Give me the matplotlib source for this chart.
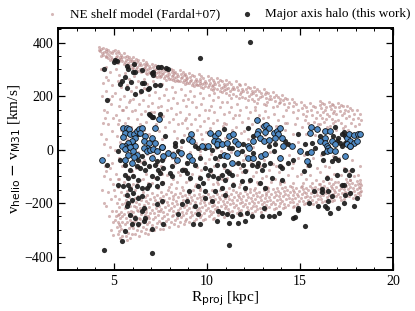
import matplotlib
matplotlib.use("Agg")
import matplotlib.pyplot as plt
from matplotlib.ticker import MultipleLocator

plt.rcParams['font.family'] = ['Liberation Serif', 'DejaVu Serif']
plt.rcParams['mathtext.fontset'] = 'dejavusans'

# ---------------- data ----------------
model_pts = [
 (4.2,385),(4.3,378),(4.25,370),(4.4,380),(4.45,365),(4.35,360),(4.2,372),(4.4,355),(4.3,350),
 (4.3,300),(4.4,250),(4.35,200),(4.45,150),(4.4,100),(4.3,60),(4.45,20),(4.4,-40),(4.45,-100),(4.35,-150),(4.45,-200),(4.5,-60),
 (4.6,378),(4.7,372),(4.55,368),(4.8,366),(4.65,360),(4.9,362),(4.75,355),(4.85,348),(4.6,350),(4.95,370),(4.7,342),(4.9,340),(4.55,345),(4.8,335),
 (4.6,310),(4.8,290),(4.7,260),(4.9,240),(4.6,220),(4.75,190),(4.85,170),(4.65,140),(4.95,120),(4.7,95),(4.9,70),(4.6,40),(4.8,10),(4.7,-20),(4.9,-50),(4.6,-80),(4.8,-110),(4.95,-130),(4.7,-160),(4.85,-185),(4.6,-210),(4.9,-230),(4.75,-250),(4.95,-270),(4.85,-300),(4.95,-320),
 (5.05,372),(5.2,368),(5.1,360),(5.3,362),(5.4,355),(5.15,350),(5.35,345),(5.25,340),(5.45,348),(5.05,338),(5.3,330),(5.2,325),(5.45,332),(5.1,345),(5.4,338),
 (5.1,300),(5.3,280),(5.2,255),(5.4,235),(5.05,210),(5.35,190),(5.25,165),(5.45,150),(5.1,130),(5.3,110),(5.2,95),(5.4,75),(5.15,50),(5.35,30),(5.05,0),(5.25,-30),(5.45,-60),(5.1,-90),(5.3,-110),(5.2,-140),(5.4,-160),
 (5.05,-175),(5.3,-185),(5.15,-200),(5.45,-205),(5.25,-215),(5.1,-228),(5.4,-235),(5.2,-245),(5.35,-255),(5.05,-262),(5.45,-270),(5.25,-278),(5.15,-290),(5.4,-295),(5.3,-305),(5.2,-315),(5.45,-322),(5.35,-330),(5.1,-250),(5.3,-240),(5.45,-250),(5.2,-270),(5.35,-285),
 (5.55,360),(5.7,352),(5.6,345),(5.8,348),(5.9,340),(5.65,335),(5.85,330),(5.75,325),(5.95,332),(5.55,320),(5.7,315),(5.9,318),(5.8,310),(5.6,328),(5.95,305),(5.75,340),
 (5.6,285),(5.8,265),(5.7,240),(5.9,220),(5.55,200),(5.85,185),(5.65,160),(5.95,145),(5.75,120),(5.6,100),(5.9,85),(5.7,40),(5.85,-20),(5.6,-60),(5.95,-80),(5.75,-100),(5.55,-120),(5.9,-140),(5.7,-155),
 (5.55,-170),(5.8,-178),(5.65,-190),(5.95,-195),(5.7,-205),(5.85,-212),(5.6,-220),(5.9,-228),(5.75,-235),(5.55,-242),(5.95,-248),(5.65,-255),(5.85,-262),(5.7,-270),(5.6,-278),(5.9,-285),(5.8,-292),(5.55,-300),(5.75,-310),(5.95,-315),(5.65,-322),(5.85,-330),(5.7,-338),(5.6,-200),(5.8,-245),(5.95,-270),
 (6.05,345),(6.2,340),(6.1,332),(6.3,335),(6.4,325),(6.15,322),(6.35,315),(6.25,310),(6.45,318),(6.05,305),(6.2,300),(6.4,302),(6.3,295),(6.1,315),(6.45,290),(6.25,328),
 (6.1,275),(6.3,255),(6.2,235),(6.4,210),(6.05,190),(6.35,170),(6.15,150),(6.45,135),(6.25,115),(6.4,95),(6.1,70),(6.3,-10),(6.45,-45),(6.2,-70),(6.05,-95),(6.4,-115),(6.25,-130),(6.15,-150),
 (6.05,-165),(6.3,-172),(6.15,-182),(6.45,-188),(6.2,-196),(6.35,-204),(6.1,-212),(6.4,-218),(6.25,-226),(6.05,-233),(6.45,-240),(6.15,-248),(6.35,-255),(6.2,-262),(6.1,-270),(6.4,-276),(6.3,-284),(6.05,-292),(6.25,-300),(6.45,-306),(6.15,-314),(6.35,-322),(6.2,-215),(6.4,-260),(6.3,-230),
 (6.55,335),(6.7,328),(6.6,320),(6.8,322),(6.9,312),(6.65,310),(6.85,302),(6.75,298),(6.95,305),(6.55,295),(6.7,288),(6.9,292),(6.8,282),(6.6,305),(6.95,285),(6.75,315),
 (6.6,265),(6.8,245),(6.7,225),(6.9,205),(6.55,185),(6.85,165),(6.65,145),(6.95,125),(6.75,105),(6.6,75),(6.9,60),(6.8,-15),(6.6,-40),(6.95,-65),(6.7,-90),(6.55,-110),(6.85,-125),(6.75,-145),
 (6.55,-160),(6.8,-168),(6.65,-178),(6.95,-183),(6.7,-192),(6.85,-200),(6.6,-207),(6.9,-214),(6.75,-222),(6.55,-229),(6.95,-236),(6.65,-243),(6.85,-250),(6.7,-258),(6.6,-266),(6.9,-272),(6.8,-280),(6.55,-288),(6.75,-296),(6.95,-302),(6.65,-310),(6.85,-315),(6.7,-235),(6.9,-255),
 (7.05,322),(7.2,315),(7.1,308),(7.3,310),(7.4,300),(7.15,298),(7.35,290),(7.25,285),(7.45,292),(7.05,283),(7.2,276),(7.4,280),(7.3,270),(7.1,293),(7.45,272),(7.25,303),
 (7.1,255),(7.3,240),(7.2,215),(7.4,195),(7.05,175),(7.35,160),(7.15,140),(7.45,115),(7.25,95),(7.4,70),(7.1,-20),(7.3,-55),(7.45,-80),(7.2,-105),(7.05,-125),(7.35,-145),
 (7.05,-162),(7.3,-168),(7.15,-176),(7.45,-182),(7.2,-190),(7.35,-197),(7.1,-204),(7.4,-210),(7.25,-218),(7.05,-225),(7.45,-231),(7.15,-238),(7.35,-245),(7.2,-252),(7.1,-260),(7.4,-266),(7.3,-274),(7.05,-282),(7.25,-290),(7.45,-295),(7.15,-302),(7.35,-228),
 (7.55,312),(7.7,305),(7.6,298),(7.8,300),(7.9,290),(7.65,288),(7.85,280),(7.75,276),(7.95,283),(7.55,274),(7.7,267),(7.9,270),(7.8,262),(7.6,284),(7.95,264),(7.75,294),
 (7.6,245),(7.8,228),(7.7,205),(7.9,185),(7.55,165),(7.85,150),(7.65,125),(7.95,105),(7.75,85),(7.6,40),(7.9,-5),(7.7,-35),(7.55,-60),(7.85,-95),(7.65,-120),(7.95,-140),
 (7.55,-160),(7.8,-166),(7.65,-174),(7.95,-180),(7.7,-187),(7.85,-194),(7.6,-200),(7.9,-207),(7.75,-214),(7.55,-221),(7.95,-227),(7.65,-234),(7.85,-240),(7.7,-247),(7.6,-254),(7.9,-260),(7.8,-268),(7.55,-275),(7.75,-283),(7.95,-290),(7.65,-296),
 (8.05,303),(8.2,296),(8.1,290),(8.3,292),(8.4,282),(8.15,280),(8.35,272),(8.25,268),(8.45,275),(8.05,266),(8.2,260),(8.4,262),(8.3,255),(8.1,276),(8.45,258),(8.25,286),
 (8.1,235),(8.3,215),(8.2,195),(8.4,175),(8.05,155),(8.35,135),(8.15,115),(8.45,95),(8.25,70),(8.4,45),(8.1,-30),(8.3,-50),(8.45,-85),(8.2,-110),(8.05,-130),(8.35,-145),
 (8.05,-160),(8.3,-166),(8.15,-173),(8.45,-178),(8.2,-185),(8.35,-192),(8.1,-198),(8.4,-205),(8.25,-212),(8.05,-218),(8.45,-224),(8.15,-231),(8.35,-237),(8.2,-244),(8.1,-250),(8.4,-257),(8.3,-264),(8.05,-270),(8.25,-278),(8.45,-285),
 (8.55,296),(8.7,290),(8.6,282),(8.8,284),(8.9,275),(8.65,272),(8.85,265),(8.75,260),(8.95,268),(8.55,258),(8.7,252),(8.9,255),(8.8,247),(8.6,268),(8.95,248),(8.75,278),
 (8.6,225),(8.8,205),(8.7,185),(8.9,165),(8.55,140),(8.85,120),(8.65,100),(8.95,80),(8.75,55),(8.6,-25),(8.9,-45),(8.7,-70),(8.55,-95),(8.85,-120),(8.65,-140),
 (8.55,-162),(8.8,-168),(8.65,-175),(8.95,-180),(8.7,-187),(8.85,-193),(8.6,-200),(8.9,-206),(8.75,-213),(8.55,-219),(8.95,-225),(8.65,-232),(8.85,-238),(8.7,-245),(8.6,-252),(8.9,-258),(8.8,-266),(8.55,-272),(8.75,-280),
 (9.05,288),(9.2,280),(9.1,272),(9.3,275),(9.4,265),(9.15,262),(9.35,255),(9.25,250),(9.45,258),(9.05,248),(9.2,242),(9.4,245),(9.3,238),(9.1,256),(9.45,240),
 (9.1,220),(9.3,200),(9.2,180),(9.4,160),(9.05,135),(9.35,115),(9.15,95),(9.45,75),(9.25,50),(9.4,25),(9.1,-10),(9.3,-40),(9.45,-65),(9.2,-90),(9.05,-115),(9.35,-135),(9.25,-150),
 (9.05,-165),(9.3,-170),(9.15,-177),(9.45,-182),(9.2,-188),(9.35,-195),(9.1,-201),(9.4,-207),(9.25,-214),(9.05,-220),(9.45,-226),(9.15,-232),(9.35,-238),(9.2,-245),(9.1,-252),(9.4,-258),(9.3,-266),(9.05,-272),
 (9.55,282),(9.7,275),(9.6,266),(9.8,268),(9.9,258),(9.65,255),(9.85,248),(9.75,244),(9.95,250),(9.55,240),(9.7,235),(9.9,238),(9.8,230),(9.6,248),
 (9.6,212),(9.8,192),(9.7,172),(9.9,150),(9.55,128),(9.85,108),(9.65,88),(9.95,65),(9.75,40),(9.6,-20),(9.9,-50),(9.7,-75),(9.55,-100),(9.85,-125),(9.65,-145),
 (9.55,-166),(9.8,-172),(9.65,-178),(9.95,-183),(9.7,-189),(9.85,-195),(9.6,-201),(9.9,-207),(9.75,-213),(9.55,-219),(9.95,-225),(9.65,-231),(9.85,-237),(9.7,-244),(9.6,-251),(9.9,-258),(9.8,-264),
 (10.05,275),(10.2,268),(10.1,260),(10.3,262),(10.4,252),(10.15,250),(10.35,242),(10.25,238),(10.45,245),(10.05,233),(10.2,228),(10.4,230),(10.3,222),(10.1,242),
 (10.1,205),(10.3,185),(10.2,165),(10.4,140),(10.05,120),(10.35,100),(10.15,80),(10.45,55),(10.25,30),(10.1,-35),(10.4,-60),(10.2,-85),(10.05,-110),(10.35,-130),(10.25,-150),
 (10.05,-167),(10.3,-172),(10.15,-178),(10.45,-183),(10.2,-189),(10.35,-195),(10.1,-200),(10.4,-206),(10.25,-212),(10.05,-218),(10.45,-223),(10.15,-229),(10.35,-235),(10.2,-241),(10.1,-248),(10.4,-254),(10.3,-260),
 (10.55,268),(10.7,260),(10.6,252),(10.8,255),(10.9,245),(10.65,242),(10.85,235),(10.75,230),(10.95,238),(10.55,226),(10.7,220),(10.9,222),(10.8,215),
 (10.6,198),(10.8,178),(10.7,158),(10.9,135),(10.55,112),(10.85,90),(10.65,70),(10.95,45),(10.75,-5),(10.6,-40),(10.9,-70),(10.7,-95),(10.55,-120),(10.85,-140),
 (10.55,-165),(10.8,-170),(10.65,-176),(10.95,-180),(10.7,-186),(10.85,-192),(10.6,-197),(10.9,-203),(10.75,-209),(10.55,-215),(10.95,-220),(10.65,-226),(10.85,-232),(10.7,-238),(10.6,-245),(10.9,-251),
 (11.05,262),(11.2,252),(11.1,244),(11.3,246),(11.4,236),(11.15,232),(11.35,225),(11.25,218),(11.45,228),(11.05,212),(11.2,205),(11.4,208),(11.3,195),
 (11.1,180),(11.3,160),(11.2,140),(11.4,118),(11.05,95),(11.35,75),(11.15,-25),(11.45,-55),(11.25,-80),(11.1,-105),(11.4,-125),(11.2,-145),
 (11.05,-160),(11.3,-166),(11.15,-172),(11.45,-177),(11.2,-183),(11.35,-188),(11.1,-194),(11.4,-199),(11.25,-205),(11.05,-211),(11.45,-216),(11.15,-222),(11.35,-228),(11.2,-234),(11.1,-241),(11.4,-247),
 (11.55,255),(11.7,245),(11.6,236),(11.8,240),(11.9,228),(11.65,224),(11.85,215),(11.75,208),(11.95,218),(11.55,200),(11.7,192),(11.9,196),
 (11.6,170),(11.8,150),(11.7,128),(11.9,105),(11.55,85),(11.85,62),(11.65,-15),(11.95,-40),(11.75,-70),(11.6,-95),(11.9,-118),(11.7,-140),
 (11.55,-158),(11.8,-163),(11.65,-169),(11.95,-174),(11.7,-179),(11.85,-185),(11.6,-190),(11.9,-196),(11.75,-201),(11.55,-207),(11.95,-212),(11.65,-218),(11.85,-224),(11.7,-230),(11.6,-237),(11.9,-243),
 (12.05,245),(12.2,236),(12.1,228),(12.3,230),(12.4,220),(12.15,215),(12.35,208),(12.25,200),(12.45,210),(12.05,192),(12.2,185),(12.4,188),
 (12.1,160),(12.3,140),(12.2,118),(12.4,95),(12.05,-20),(12.35,-50),(12.15,-75),(12.45,-100),(12.25,-120),(12.1,-140),
 (12.05,-155),(12.3,-160),(12.15,-166),(12.45,-171),(12.2,-176),(12.35,-181),(12.1,-187),(12.4,-192),(12.25,-198),(12.05,-203),(12.45,-209),(12.15,-214),(12.35,-220),(12.2,-226),(12.1,-232),(12.4,-238),
 (12.55,235),(12.7,226),(12.6,218),(12.8,220),(12.9,210),(12.65,205),(12.85,198),(12.75,190),(12.95,200),(12.55,182),(12.7,175),
 (12.6,150),(12.8,130),(12.7,110),(12.9,88),(12.55,-30),(12.85,-60),(12.65,-85),(12.95,-105),(12.75,-130),(12.6,-145),
 (12.55,-152),(12.8,-157),(12.65,-163),(12.95,-168),(12.7,-173),(12.85,-178),(12.6,-184),(12.9,-189),(12.75,-195),(12.55,-200),(12.95,-205),(12.65,-211),(12.85,-217),(12.7,-223),(12.6,-229),(12.9,-234),
 (13.05,225),(13.2,216),(13.1,208),(13.3,210),(13.4,200),(13.15,195),(13.35,188),(13.25,180),(13.45,190),(13.05,172),(13.2,166),
 (13.1,145),(13.3,122),(13.2,100),(13.4,-10),(13.05,-40),(13.35,-75),(13.15,-100),(13.45,-120),(13.25,-140),
 (13.05,-150),(13.3,-155),(13.15,-161),(13.45,-166),(13.2,-171),(13.35,-176),(13.1,-181),(13.4,-187),(13.25,-192),(13.05,-197),(13.45,-203),(13.15,-208),(13.35,-214),(13.2,-220),(13.1,-226),
 (13.55,215),(13.7,205),(13.6,196),(13.8,198),(13.9,188),(13.65,182),(13.85,174),(13.75,165),(13.95,178),(13.55,158),
 (13.6,135),(13.8,112),(13.7,90),(13.9,-25),(13.55,-55),(13.85,-85),(13.65,-110),(13.95,-130),(13.75,-142),
 (13.55,-148),(13.8,-153),(13.65,-158),(13.95,-163),(13.7,-168),(13.85,-173),(13.6,-178),(13.9,-184),(13.75,-189),(13.55,-194),(13.95,-200),(13.65,-205),(13.85,-211),(13.7,-217),(13.6,-223),
 (14.05,205),(14.2,195),(14.1,185),(14.3,188),(14.4,175),(14.15,170),(14.35,160),(14.25,150),
 (14.1,125),(14.3,100),(14.2,75),(14.4,-20),(14.05,-60),(14.35,-95),(14.15,-120),(14.45,-135),
 (14.05,-145),(14.3,-150),(14.15,-155),(14.45,-160),(14.2,-165),(14.35,-170),(14.1,-175),(14.4,-180),(14.25,-186),(14.05,-191),(14.45,-196),(14.15,-202),(14.35,-208),(14.2,-214),(14.1,-220),
 (14.55,190),(14.7,178),(14.6,165),(14.8,170),(14.9,150),(14.65,140),(14.85,120),(14.75,95),(14.6,60),(14.9,-30),(14.55,-70),(14.85,-100),(14.65,-125),
 (14.55,-140),(14.8,-145),(14.65,-150),(14.95,-155),(14.7,-160),(14.85,-165),(14.6,-170),(14.9,-175),(14.75,-181),(14.55,-186),(14.95,-191),(14.65,-197),(14.85,-203),(14.7,-209),(14.6,-215),
 (15.05,180),(15.2,168),(15.1,155),(15.3,160),(15.4,145),(15.15,135),(15.35,125),(15.25,110),(15.45,100),(15.1,85),(15.3,60),(15.2,-20),(15.4,-60),(15.05,-90),(15.35,-110),(15.15,-125),
 (15.05,-138),(15.3,-143),(15.15,-148),(15.45,-152),(15.2,-157),(15.35,-162),(15.1,-167),(15.4,-172),(15.25,-177),(15.05,-182),(15.45,-187),(15.15,-193),(15.35,-199),(15.2,-205),
 (15.55,175),(15.7,165),(15.6,150),(15.8,158),(15.9,140),(15.65,130),(15.85,118),(15.75,105),(15.95,95),(15.6,80),(15.8,55),(15.7,-30),(15.9,-70),(15.55,-95),(15.85,-115),(15.65,-125),
 (15.55,-135),(15.8,-140),(15.65,-145),(15.95,-149),(15.7,-154),(15.85,-159),(15.6,-164),(15.9,-169),(15.75,-174),(15.55,-179),(15.95,-184),(15.65,-190),(15.85,-196),(15.7,-202),
 (16.05,182),(16.2,175),(16.1,168),(16.3,172),(16.4,160),(16.15,155),(16.35,148),(16.25,140),(16.45,135),(16.05,128),(16.2,120),(16.4,115),(16.3,105),(16.1,95),(16.45,85),(16.25,70),(16.15,-20),(16.35,-60),(16.05,-85),(16.45,-100),(16.25,-118),
 (16.05,-130),(16.3,-135),(16.15,-140),(16.45,-144),(16.2,-149),(16.35,-154),(16.1,-159),(16.4,-164),(16.25,-169),(16.05,-174),(16.45,-179),(16.15,-185),(16.35,-191),(16.2,-197),
 (16.55,178),(16.7,172),(16.6,165),(16.8,168),(16.9,158),(16.65,152),(16.85,145),(16.75,138),(16.95,132),(16.55,125),(16.7,115),(16.9,108),(16.8,98),(16.6,88),(16.95,75),(16.75,-25),(16.55,-65),(16.85,-90),(16.65,-110),
 (16.55,-125),(16.8,-130),(16.65,-135),(16.95,-140),(16.7,-145),(16.85,-150),(16.6,-155),(16.9,-160),(16.75,-165),(16.55,-170),(16.95,-175),(16.65,-181),(16.85,-187),(16.7,-193),
 (17.05,175),(17.2,168),(17.1,160),(17.3,162),(17.4,150),(17.15,145),(17.35,138),(17.25,128),(17.45,120),(17.05,112),(17.2,100),(17.4,90),(17.3,80),(17.1,-30),(17.35,-70),(17.2,-95),(17.45,-110),
 (17.05,-122),(17.3,-127),(17.15,-132),(17.45,-137),(17.2,-142),(17.35,-147),(17.1,-152),(17.4,-157),(17.25,-162),(17.05,-167),(17.45,-172),(17.15,-178),(17.35,-184),(17.2,-190),
 (17.55,165),(17.7,155),(17.6,145),(17.8,150),(17.9,135),(17.65,125),(17.85,115),(17.75,100),(17.95,90),(17.6,75),(17.8,-40),(17.65,-80),(17.9,-100),(17.7,-112),
 (17.55,-120),(17.8,-125),(17.65,-130),(17.95,-134),(17.7,-139),(17.85,-144),(17.6,-149),(17.9,-154),(17.75,-159),(17.55,-164),(17.95,-169),(17.65,-175),(17.85,-181),
 (18.05,150),(18.2,135),(18.1,120),(18.3,110),(18.15,95),(18.25,-60),(18.1,-95),
 (18.05,-118),(18.2,-123),(18.1,-128),(18.3,-133),(18.15,-138),(18.25,-143),(18.05,-148),(18.3,-153),(18.2,-158),(18.1,-163),(18.25,-170),(18.05,-176),
 (8.2,-10),(8.6,10),(8.9,-80),(9.2,30),(9.6,-5),(9.9,20),(10.2,-15),(10.5,5),(10.8,-110),(11.0,30),(11.3,-10),(11.6,15),(11.9,-85),(12.2,40),(12.5,10),(12.8,-20),
 (13.1,55),(13.4,30),(13.7,-60),(14.0,40),(14.3,20),(14.6,-50),(14.9,30),(9.4,-130),(10.6,-130),(11.8,-130),(12.7,-120),(13.9,-120),(8.4,-120),(9.7,60),(10.9,100),
 (12.0,70),(13.0,120),(14.2,100),(8.8,110),(10.1,150),(11.5,130),(12.6,160),(9.0,190),(10.4,210),(11.0,225),(7.2,20),(6.2,10),(5.5,150),(6.8,-5),(7.6,-90),(5.2,-110),
 (4.9,200),(5.8,180),(7.0,140),(6.6,230),(5.4,260),(4.6,270),(4.5,120),(4.8,-70),(5.0,-150),(6.0,-130),(6.9,-140),(7.9,-150),(8.7,-150),(9.6,-150),(10.7,-150),
 (11.4,-150),(12.3,-148),(13.3,-142),(14.2,-138),(15.1,-135),(16.0,-128),(16.9,-120),(17.7,-115),(18.2,-112),
]

halo_pts = [
 (5.07,335),(5.17,331),(5.0,326),(4.49,303),(5.73,312),(5.78,303),(6.09,322),(6.0,291),(6.14,291),
 (5.60,271),(5.42,256),(5.33,244),(5.69,231),(5.92,253),(6.50,296),(6.64,250),(6.50,250),(7.12,290),(7.09,281),
 (7.39,308),(7.52,310),(7.79,306),(7.90,303),(7.22,241),(7.48,240),(6.14,209),(6.46,219),(6.82,225),(4.63,184),
 (6.89,132),(7.12,122),(7.50,134),(7.03,122),(6.86,230),(7.04,286),(6.95,130),(7.75,51),(9.62,344),(12.29,404),
 (4.62,-58),(5.33,-37),(5.60,-56),(5.87,-75),(6.23,-62),(6.41,-68),(6.68,-75),(6.86,-62),(7.22,-56),(7.39,-75),
 (7.66,-68),(8.11,-62),(8.65,-75),(5.60,-93),(5.78,-106),(6.05,-100),(6.32,-112),(7.04,-100),(7.31,-106),(7.48,-87),
 (8.02,-87),(5.24,-131),(5.51,-137),(5.78,-131),(5.87,-149),(5.69,-168),(6.23,-137),(6.50,-143),(6.77,-143),(6.86,-131),
 (7.31,-137),(7.57,-124),(8.11,-100),(6.05,-162),(6.32,-180),(6.50,-174),(5.96,-187),(5.78,-199),(5.69,-211),(7.31,-205),
 (7.57,-193),(6.59,-218),(6.50,-230),(6.68,-255),(6.59,-267),(5.87,-245),(6.14,-255),(5.96,-280),(6.32,-280),(7.04,-298),
 (7.66,-280),(5.60,-305),(5.42,-342),(7.04,-385),(4.47,-376),(8.65,-205),(8.47,-242),
 (5.24,-6),(6.32,-37),(6.50,-25),(7.31,-44),(7.57,-37),(8.29,12),(8.47,-6),(8.83,-75),(6.59,-50),
 (8.92,-50),(9.37,-56),(9.63,-31),(9.90,-68),(10.17,-75),(10.44,-31),(10.71,-25),(10.53,-56),(10.89,-56),(11.07,-81),
 (11.34,-93),(11.69,-50),(11.96,-56),(12.05,-81),(12.41,-56),(12.68,-62),(13.04,-56),(12.95,-75),(13.40,-50),(13.94,-62),
 (14.02,-68),(14.38,-50),(14.65,-37),(8.92,-87),(9.10,-106),(9.63,-106),(9.81,-124),(10.08,-93),(10.35,-100),(10.62,-106),
 (10.80,-93),(10.98,-112),(11.16,-87),(11.42,-131),(11.87,-118),(12.05,-143),(12.32,-112),(12.86,-124),(13.13,-143),(13.49,-106),
 (14.02,-112),(9.01,-155),(9.54,-137),(9.90,-155),(10.44,-155),(10.80,-143),(10.98,-168),(8.92,-193),(9.37,-211),(9.90,-180),
 (10.26,-193),(10.62,-230),(10.80,-236),(11.07,-242),(11.34,-249),(11.78,-242),(12.14,-236),(12.41,-249),(13.04,-218),(13.31,-249),
 (13.85,-236),(14.65,-255),(9.63,-280),(9.54,-242),(9.27,-280),(10.53,-267),(11.16,-274),(11.69,-274),(12.05,-267),(11.16,-356),
 (12.95,-249),(13.58,-249),
 (9.54,6),(10.26,0),(10.53,12),(11.34,6),(11.87,-6),(12.50,-12),(13.58,-6),(12.77,-50),
 (10.94,76),(12.20,82),(12.50,51),(13.67,20),(14.20,32),(14.38,20),(9.37,14),(9.90,7),(11.16,7),(11.96,20),(13.31,14),
 (6.32,57),(6.05,26),(8.29,26),(8.65,32),
 (14.89,57),(16.86,85),(15.64,26),(16.09,51),(16.80,51),(17.07,45),(17.25,57),(17.39,67),(17.43,51),(16.98,32),
 (17.16,26),(17.43,26),(17.25,14),(15.82,7),(15.28,20),
 (15.37,-12),(15.46,-56),(15.24,-81),(16.26,-12),(16.71,-44),(16.26,-37),(16.44,-106),(16.89,-31),(17.07,-37),(16.98,-93),
 (17.43,-75),(17.79,-75),(17.61,-93),(17.25,-131),(17.39,-133),(16.53,-155),(16.18,-149),(16.18,-158),(15.73,-155),(18.06,-180),
 (17.70,-162),(17.43,-168),(16.71,-174),(16.53,-193),(16.35,-211),(16.44,-220),(15.99,-211),(16.62,-236),(17.07,-218),(17.34,-199),
 (17.88,-211),(14.92,-218),(14.92,-226),(15.46,-201),(15.28,-286),(14.74,-252),
]

blue_pts = [
 (5.51,82),(5.73,82),(5.82,76),(5.60,63),(5.51,47),(5.87,60),(6.10,60),(6.23,70),(6.35,79),(6.50,82),
 (6.41,63),(6.14,45),(5.96,32),(5.78,26),(5.60,14),(6.68,51),(6.59,32),(6.86,26),(7.04,45),(7.22,26),
 (7.61,10),(6.14,14),(6.77,7),(5.69,5),(7.44,113),(7.22,82),
 (5.42,12),(5.60,4),(5.87,9),(6.05,-6),(6.23,-19),(5.78,-19),(6.10,-29),(5.60,-37),(5.96,-50),(6.59,6),
 (6.77,-6),(6.95,0),(7.12,4),(7.31,-4),(7.61,9),(7.93,-12),(8.20,-19),(8.38,-37),(8.61,-12),(4.35,-37),
 (7.04,-31),(7.66,-25),
 (9.15,60),(9.01,39),(9.19,32),(10.17,63),(10.44,51),(10.62,63),(10.40,32),(10.62,32),(10.53,20),(10.80,20),
 (11.07,26),(11.16,51),(11.42,57),(11.52,32),(11.69,20),(12.23,14),(12.68,109),(12.77,70),(12.68,57),(12.86,45),
 (13.04,88),(13.18,91),(13.31,82),(13.13,67),(13.04,32),(13.31,35),(13.58,63),(13.76,70),(13.84,57),(13.94,82),
 (14.02,45),(14.56,14),(12.50,32),(13.67,45),
 (9.01,-25),(9.19,-37),(9.72,12),(10.08,12),(10.89,-19),(11.07,-25),(11.61,-12),(11.34,-50),(12.20,-31),(12.50,-31),
 (12.91,-22),(13.13,-15),(13.94,-31),(14.11,15),(12.28,6),
 (15.60,85),(15.91,79),(15.55,63),(16.35,70),(16.59,70),(16.32,45),(16.09,32),(16.32,26),(16.44,14),(16.71,32),
 (16.89,20),(17.52,45),(17.61,60),(17.88,55),(18.14,57),(18.24,60),(17.70,32),(17.88,26),(17.52,20),(17.70,14),
 (16.53,7),(18.06,32),
 (15.01,-4),(15.37,-44),(15.60,-9),(16.44,-6),(16.62,0),(16.89,-6),(17.43,-25),(17.70,12),
]

model_r, model_v = zip(*model_pts)
halo_r, halo_v = zip(*halo_pts)
blue_r, blue_v = zip(*blue_pts)

xlim = (2, 20)
ylim = (-450, 455)

# ---------------- figure ----------------
fig = plt.figure(figsize=(4.15, 3.11), dpi=100)
ax = fig.add_axes([0.140, 0.132, 0.807, 0.778])

ax.scatter(model_r, model_v, s=5.0, color='#b98787', alpha=0.6, lw=0,
           label='NE shelf model (Fardal+07)', zorder=1)
ax.scatter(halo_r, halo_v, s=14, color='#1c1c1c', alpha=0.92, lw=0,
           label='Major axis halo (this work)', zorder=2)
ax.scatter(blue_r, blue_v, s=17, facecolor='#4f8ac4', edgecolor='#111111',
           linewidth=0.6, zorder=3)

ax.set_xlim(*xlim)
ax.set_ylim(*ylim)
ax.xaxis.set_major_locator(MultipleLocator(5))
ax.xaxis.set_minor_locator(MultipleLocator(1))
ax.yaxis.set_major_locator(MultipleLocator(200))
ax.yaxis.set_minor_locator(MultipleLocator(50))
ax.tick_params(which='both', direction='in', top=True, right=True, labelsize=10)
ax.tick_params(which='major', length=5, width=0.9)
ax.tick_params(which='minor', length=2.5, width=0.7)
for sp in ax.spines.values():
    sp.set_linewidth(1.4)

ax.set_xlabel(r'R$_{\rm proj}$ [kpc]', fontsize=11, labelpad=1)
ax.set_ylabel(r'v$_{\rm helio}$ $-$ v$_{\rm M31}$ [km/s]', fontsize=11, labelpad=1)

leg = ax.legend(loc='lower center', bbox_to_anchor=(0.505, 1.0), ncol=2,
                frameon=False, fontsize=9.5, markerscale=1.0,
                handlelength=1.2, handletextpad=0.8, columnspacing=1.4,
                borderaxespad=0.2)

fig.savefig('out.png', dpi=100)
